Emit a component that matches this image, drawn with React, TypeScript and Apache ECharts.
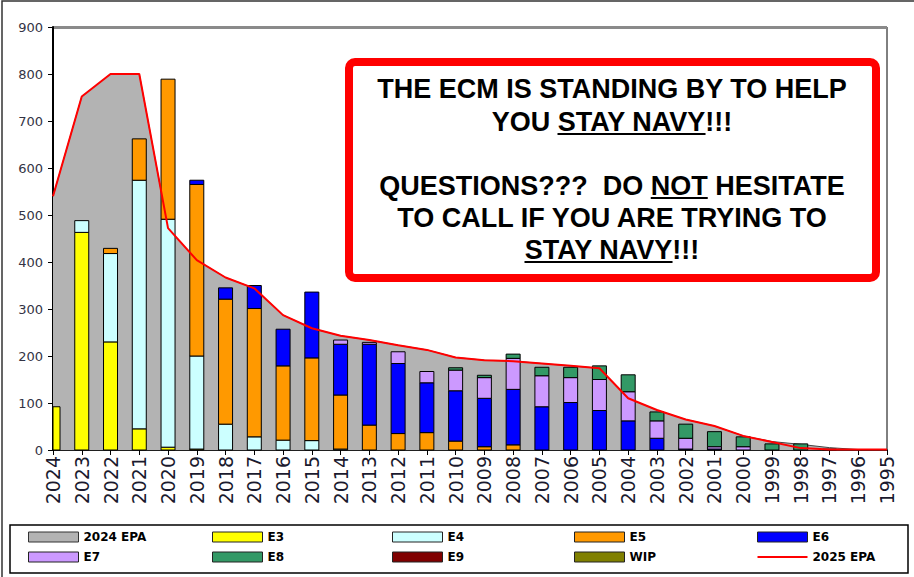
import React, { useEffect, useRef } from 'react';
import * as echarts from 'echarts';

const years = ['2024','2023','2022','2021','2020','2019','2018','2017','2016','2015','2014','2013','2012','2011','2010','2009','2008','2007','2006','2005','2004','2003','2002','2001','2000','1999','1998','1997','1996','1995'];

const epa2024 = [540,752,800,800,472,404,367,344,287,259,243,234,223,213,197,191,189,184,179,174,110,85,65,51,30,18,12,5,1,0];
const epa2025 = [540,752,800,800,472,404,367,344,287,259,243,234,223,213,197,191,189,184,179,174,110,85,65,51,30,17,4,1,1,1];

const e3 = [92,463,230,45,6,2,0,0,0,0,0,0,0,0,0,0,0,0,0,0,0,0,0,0,0,0,0,0,0,0];
const e4 = [0,25,188,529,485,198,55,28,21,20,2,0,0,0,0,0,0,0,0,0,0,0,0,0,0,0,0,0,0,0];
const e5 = [0,0,11,88,298,365,266,273,158,176,115,53,35,37,19,7,11,0,0,0,0,0,0,0,0,0,0,0,0,0];
const e6 = [0,0,0,0,0,9,24,49,78,140,108,172,149,106,107,103,118,92,101,84,62,25,2,2,0,0,0,0,0,0];
const e7 = [0,0,0,0,0,0,0,0,0,0,9,4,25,24,44,44,66,66,53,66,62,37,23,5,7,0,0,0,0,0];
const e8 = [0,0,0,0,0,0,0,0,0,0,0,0,0,0,5,5,9,18,22,29,36,19,30,32,21,13,13,2,0,0];
const e9 = [0,0,0,0,0,0,0,0,0,0,0,0,0,0,0,0,0,0,0,0,0,0,0,0,0,0,0,0,0,0];
const wip = [0,0,0,0,0,0,0,0,0,0,0,0,0,0,0,0,0,0,0,0,0,0,0,0,0,0,0,0,0,0];

const barSeriesDefs = [
  { name: 'E3', data: e3, color: '#ffff00' },
  { name: 'E4', data: e4, color: '#ccffff' },
  { name: 'E5', data: e5, color: '#ff9900' },
  { name: 'E6', data: e6, color: '#0000ff' },
  { name: 'E7', data: e7, color: '#cc99ff' },
  { name: 'E8', data: e8, color: '#339966' },
  { name: 'E9', data: e9, color: '#800000' },
  { name: 'WIP', data: wip, color: '#808000' },
];

const yTicks = ['0','100','200','300','400','500','600','700','800','900'];

const legendColumns = [['2024 EPA', 'E7'], ['E3', 'E8'], ['E4', 'E9'], ['E5', 'WIP'], ['E6', '2025 EPA']];
const legendLefts = [23, 207, 387, 569, 752];

const boxLines = [
  { text: 'THE ECM IS STANDING BY TO HELP', y: 89, pre: '', u: '' },
  { text: 'YOU STAY NAVY!!!', y: 122, pre: 'YOU ', u: 'STAY NAVY' },
  { text: 'QUESTIONS???  DO NOT HESITATE', y: 186, pre: 'QUESTIONS???  DO ', u: 'NOT' },
  { text: 'TO CALL IF YOU ARE TRYING TO', y: 218, pre: '', u: '' },
  { text: 'STAY NAVY!!!', y: 250, pre: '', u: 'STAY NAVY' },
];

const BOX_FONT = 'bold 27px "Liberation Sans", Arial, sans-serif';
const BAR_W = 14;

export default function App() {
  const ref = useRef<HTMLDivElement>(null);
  useEffect(() => {
    if (!ref.current) return;
    const chart = echarts.init(ref.current, undefined, { renderer: 'svg' });

    const canvas = document.createElement('canvas');
    const ctx = canvas.getContext('2d')!;
    ctx.font = BOX_FONT;
    const mw = (s: string) => ctx.measureText(s).width;
    const cx = 612;

    const graphics: any[] = [
      { type: 'polyline', shape: { points: [[2, 577], [2, 1], [914, 1]] }, style: { stroke: '#333', lineWidth: 1.5, fill: 'none' }, z: 0 },
      { type: 'rect', shape: { x: 10, y: 525, width: 898, height: 48 }, style: { fill: 'none', stroke: '#000', lineWidth: 1.5 }, z: 0 },
      { type: 'rect', shape: { x: 349, y: 62, width: 527, height: 216, r: 6 }, style: { fill: '#fff', stroke: '#ff0000', lineWidth: 8 }, z: 100 },
    ];
    boxLines.forEach((l) => {
      graphics.push({
        type: 'text', x: cx, y: l.y, z: 101,
        style: { text: l.text, font: BOX_FONT, fill: '#000', align: 'center', verticalAlign: 'middle' },
      });
      if (l.u) {
        const w = mw(l.text);
        const x1 = cx - w / 2 + mw(l.pre);
        const x2 = x1 + mw(l.u);
        const uy = l.y + 12;
        graphics.push({ type: 'line', z: 101, shape: { x1, y1: uy, x2, y2: uy }, style: { stroke: '#000', lineWidth: 2 } });
      }
    });

    const legendItem = (n: string) => {
      if (n === '2024 EPA') return { name: n, icon: 'rect', itemStyle: { color: '#b3b3b3', borderColor: '#333', borderWidth: 1 } };
      if (n === '2025 EPA') return { name: n, icon: 'path://M0,0 L50,0 L50,2 L0,2 Z', itemStyle: { color: '#ff0000', borderWidth: 0 } };
      const d = barSeriesDefs.find((b) => b.name === n)!;
      return { name: n, icon: 'rect', itemStyle: { color: d.color, borderColor: '#222', borderWidth: 1 } };
    };

    const splitColors = yTicks.map((t, i) => (i === yTicks.length - 1 ? '#8a8a8a' : 'transparent'));

    const base = years.map(() => 0);
    const barSeries = barSeriesDefs.map((b) => {
      const segs: number[][] = [];
      b.data.forEach((v, i) => {
        if (v > 0) segs.push([i, base[i], base[i] + v]);
        base[i] += v;
      });
      const color = b.color;
      return {
        name: b.name, type: 'custom', z: 2,
        itemStyle: { color },
        encode: { x: 0, y: [1, 2] },
        data: segs,
        renderItem: (params: any, api: any) => {
          const i = api.value(0);
          const lo = api.coord([i, api.value(1)]);
          const hi = api.coord([i, api.value(2)]);
          const cs = params.coordSys;
          let x1 = lo[0] - BAR_W / 2;
          let x2 = lo[0] + BAR_W / 2;
          x1 = Math.max(x1, cs.x);
          x2 = Math.min(x2, cs.x + cs.width);
          if (x2 <= x1) return null;
          return {
            type: 'rect',
            shape: { x: x1, y: hi[1], width: x2 - x1, height: lo[1] - hi[1] },
            style: { fill: color, stroke: '#000', lineWidth: 1 },
          };
        },
      };
    });

    chart.setOption({
      animation: false,
      backgroundColor: '#fff',
      grid: { left: 53, right: 27, top: 27, bottom: 127, show: true, borderColor: '#000', borderWidth: 1 },
      legend: legendColumns.map((col, i) => ({
        left: legendLefts[i], top: 526, orient: 'vertical', itemWidth: 50, itemHeight: 10, itemGap: 8,
        selectedMode: false,
        data: col.map(legendItem),
        textStyle: { fontWeight: 'bold', fontSize: 12, fontFamily: '"DejaVu Sans", sans-serif', color: '#000' },
      })),
      xAxis: {
        type: 'category', data: years, boundaryGap: false,
        axisLine: { lineStyle: { color: '#000', width: 1.5 } },
        axisTick: { show: true, length: 5, lineStyle: { color: '#000' } },
        axisLabel: { interval: 0, rotate: 90, fontSize: 19, fontFamily: '"DejaVu Sans", sans-serif', color: '#1a1a2e', margin: 6 },
      },
      yAxis: {
        type: 'value', min: 0, max: 900, interval: 100,
        axisLine: { show: true, lineStyle: { color: '#000', width: 2 } },
        axisTick: { show: true, length: 5, lineStyle: { color: '#000' } },
        axisLabel: { fontSize: 13, fontFamily: '"DejaVu Sans", sans-serif', color: '#333344', margin: 10, formatter: (v: number) => yTicks[Math.round(v / 100)] },
        splitLine: { show: true, lineStyle: { color: splitColors, width: 3 } },
      },
      series: [
        {
          name: '2024 EPA', type: 'line', data: epa2024, symbol: 'none', z: 1,
          lineStyle: { color: '#444', width: 1 },
          itemStyle: { color: '#b3b3b3' },
          areaStyle: { color: '#b3b3b3', opacity: 1 },
        },
        ...barSeries,
        {
          name: '2025 EPA', type: 'line', data: epa2025, symbol: 'none', z: 3,
          lineStyle: { color: '#ff0000', width: 2 },
          itemStyle: { color: '#ff0000' },
        },
      ],
      graphic: graphics,
    });
    return () => chart.dispose();
  }, []);
  return <div ref={ref} style={{ position: 'absolute', left: 0, top: 0, width: 914, height: 577 }} />;
}
